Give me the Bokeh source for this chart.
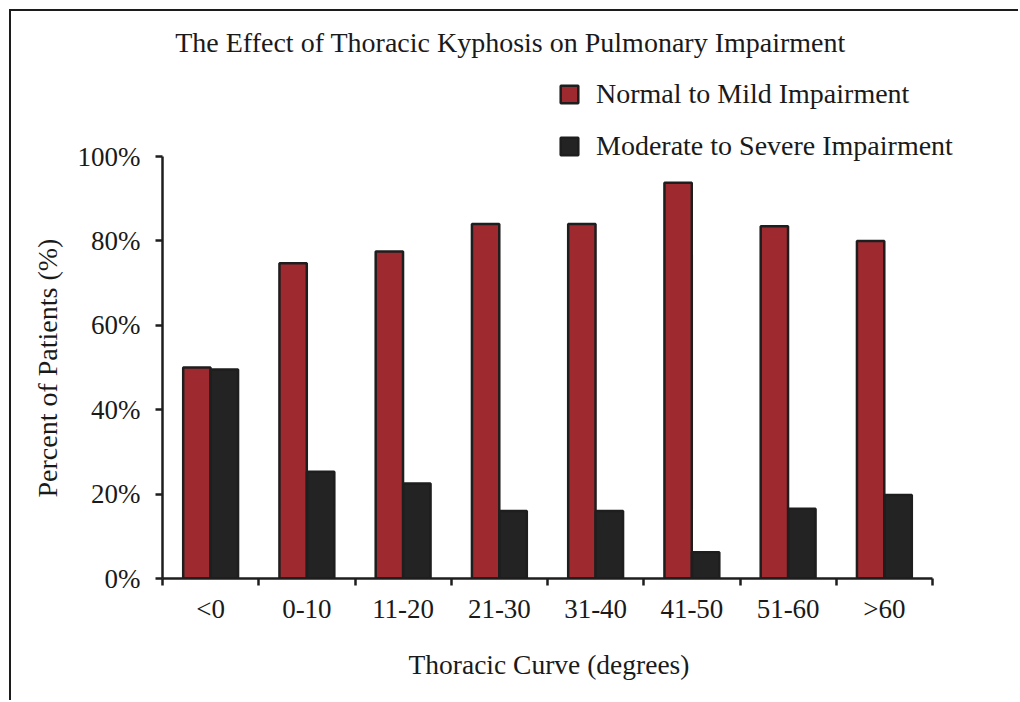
from bokeh.plotting import figure
from bokeh.models import (ColumnDataSource, FixedTicker, NumeralTickFormatter, Range1d,
                          Label, Legend, LegendItem, Title)
from bokeh.transform import dodge
from bokeh.embed import file_html
from bokeh.resources import INLINE

categories = ["<0", "0-10", "11-20", "21-30", "31-40", "41-50", "51-60", ">60"]
normal_mild = [0.50, 0.747, 0.775, 0.84, 0.84, 0.938, 0.835, 0.80]
moderate_severe = [0.495, 0.253, 0.225, 0.16, 0.16, 0.062, 0.165, 0.198]
y_ticks = [0, 0.2, 0.4, 0.6, 0.8, 1.0]

FONT = "Liberation Serif"
TXT = "#1a1a1a"
RED = "#9e2a30"
DARK = "#232323"
EDGE = "#1e1e1e"

n = len(categories)
centers = [i + 0.5 for i in range(n)]
src = ColumnDataSource(dict(x=centers, cat=categories, nm=normal_mild, ms=moderate_severe))

# geometry (pixels)
W, H = 1009, 691
LEFT, BOTTOM = 151, 124
PX_PER_CAT = 96.25
PX_PER_UNIT_Y = 422.0
frame_w = W - LEFT
frame_h = H - BOTTOM

p = figure(width=W, height=H, output_backend="svg", toolbar_location=None,
           x_range=Range1d(0, frame_w / PX_PER_CAT),
           y_range=Range1d(0, frame_h / PX_PER_UNIT_Y),
           min_border_left=LEFT, min_border_right=0, min_border_top=0, min_border_bottom=BOTTOM,
           background_fill_color="white", border_fill_color="white")
p.styles = {"margin-left": "9px", "margin-top": "9px",
            "border-top": "2px solid #1c1c1c", "border-left": "2px solid #1c1c1c"}
p.outline_line_color = None
p.grid.visible = False

r1 = p.vbar(x=dodge("x", -0.143), top="nm", width=0.284, source=src,
            fill_color=RED, line_color=EDGE, line_width=2.5)
r2 = p.vbar(x=dodge("x", 0.143), top="ms", width=0.284, source=src,
            fill_color=DARK, line_color=EDGE, line_width=2.5)

# x axis: labels at centres, ticks at category boundaries (minor ticks)
xa = p.xaxis[0]
xa.bounds = (-0.07, n)
xa.ticker = FixedTicker(ticks=centers, minor_ticks=list(range(n + 1)))
xa.major_label_overrides = {c: lab for c, lab in zip(centers, categories)}
xa.major_tick_line_color = None
xa.major_tick_out = 7
xa.minor_tick_in = 0
xa.minor_tick_out = 7
xa.minor_tick_line_width = 2.5
xa.minor_tick_line_color = EDGE
xa.axis_line_width = 2.5
xa.axis_line_color = EDGE
xa.major_label_text_font = FONT
xa.major_label_text_font_size = "27px"
xa.major_label_text_color = TXT
xa.major_label_standoff = 8

ya = p.yaxis[0]
ya.bounds = (0, 1.0)
ya.ticker = FixedTicker(ticks=y_ticks)
ya.formatter = NumeralTickFormatter(format="0%")
ya.minor_tick_line_color = None
ya.major_tick_in = 0
ya.major_tick_out = 7
ya.major_tick_line_width = 2.5
ya.major_tick_line_color = EDGE
ya.axis_line_width = 2.5
ya.axis_line_color = EDGE
ya.major_label_text_font = FONT
ya.major_label_text_font_size = "27px"
ya.major_label_text_color = TXT
ya.major_label_standoff = 15

# axis titles (placed as side-panel titles so they centre on the axes, not the frame)
xlabel = Title(text="Thoracic Curve (degrees)", align="left", offset=246,
               text_font=FONT, text_font_size="27.5px", text_font_style="normal",
               text_color=TXT, standoff=40)
p.add_layout(xlabel, "below")
ylabel = Title(text="Percent of Patients (%)", align="left", offset=81,
               text_font=FONT, text_font_size="28px", text_font_style="normal",
               text_color=TXT, standoff=24)
p.add_layout(ylabel, "left")

title = Label(x=348, y=536, x_units="screen", y_units="screen",
              text="The Effect of Thoracic Kyphosis on Pulmonary Impairment",
              text_font=FONT, text_font_size="28px", text_color=TXT,
              text_align="center", text_baseline="alphabetic")
p.add_layout(title)

legend = Legend(items=[LegendItem(label="Normal to Mild Impairment", renderers=[r1]),
                       LegendItem(label="Moderate to Severe Impairment", renderers=[r2])],
                location=(396, 416))
legend.label_text_font = FONT
legend.label_text_font_size = "28px"
legend.label_text_color = TXT
legend.glyph_width = 22
legend.glyph_height = 22
legend.label_standoff = 16
legend.spacing = 20
legend.padding = 0
legend.margin = 0
legend.border_line_color = None
legend.background_fill_alpha = 0
p.add_layout(legend)

open("out.html", "w").write(file_html(p, INLINE))
